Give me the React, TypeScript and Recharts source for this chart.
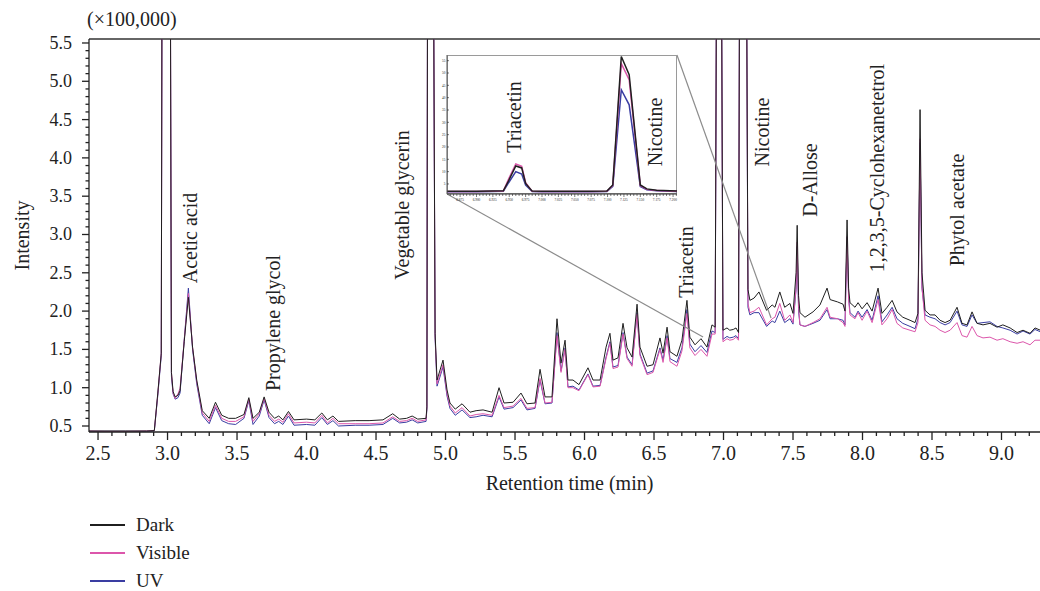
import React from 'react';
import { LineChart, Line, XAxis, YAxis, ReferenceLine, ReferenceDot } from 'recharts';

// Total ion chromatogram: retention time (min) and intensity (×100,000)
const retentionTime = [
  2.435, 2.55, 2.70, 2.85, 2.905, 2.93, 2.955, 2.962, 3.018, 3.028,
  3.04, 3.055, 3.075, 3.09, 3.12, 3.15, 3.18, 3.21, 3.25, 3.30,
  3.345, 3.39, 3.44, 3.49, 3.55, 3.585, 3.615, 3.66, 3.695, 3.73,
  3.77, 3.80, 3.83, 3.87, 3.91, 4.0, 4.06, 4.11, 4.15, 4.19,
  4.23, 4.35, 4.45, 4.55, 4.62, 4.67, 4.72, 4.76, 4.80, 4.86,
  4.866, 4.872, 4.91, 4.925, 4.939, 4.982, 5.011, 5.032, 5.07, 5.119,
  5.176, 5.22, 5.27, 5.335, 5.385, 5.421, 5.486, 5.543, 5.586, 5.644,
  5.68, 5.716, 5.766, 5.802, 5.831, 5.86, 5.881, 5.917, 5.96, 6.025,
  6.061, 6.112, 6.155, 6.183, 6.205, 6.241, 6.277, 6.306, 6.342, 6.378,
  6.399, 6.45, 6.493, 6.543, 6.565, 6.594, 6.615, 6.665, 6.701, 6.737,
  6.758, 6.795, 6.838, 6.881, 6.917, 6.94, 6.953, 6.982, 6.996, 7.025,
  7.045, 7.07, 7.09, 7.108, 7.118, 7.162, 7.176, 7.19, 7.22, 7.255,
  7.31, 7.35, 7.37, 7.405, 7.44, 7.478, 7.50, 7.522, 7.53, 7.54,
  7.55, 7.586, 7.644, 7.694, 7.745, 7.767, 7.82, 7.86, 7.874, 7.889,
  7.90, 7.91, 7.946, 7.968, 7.997, 8.033, 8.069, 8.112, 8.14, 8.177,
  8.213, 8.248, 8.29, 8.342, 8.378, 8.399, 8.414, 8.428, 8.45, 8.486,
  8.522, 8.558, 8.594, 8.63, 8.68, 8.716, 8.752, 8.788, 8.824, 8.867,
  8.917, 8.968, 9.01, 9.062, 9.112, 9.155, 9.205, 9.241, 9.28,
];

const darkIntensity = [
  0.435, 0.435, 0.435, 0.435, 0.44, 0.93, 1.45, 8, 8, 1.2,
  0.95, 0.88, 0.9, 0.96, 1.6, 2.18, 1.53, 1.1, 0.7, 0.6,
  0.81, 0.64, 0.6, 0.6, 0.65, 0.87, 0.6, 0.68, 0.88, 0.68,
  0.6, 0.63, 0.58, 0.69, 0.58, 0.59, 0.58, 0.67, 0.58, 0.63,
  0.56, 0.57, 0.57, 0.58, 0.66, 0.59, 0.6, 0.63, 0.59, 0.6,
  0.75, 8, 8, 1.71, 1.10, 1.36, 0.97, 0.80, 0.72, 0.79,
  0.68, 0.70, 0.71, 0.68, 1.0, 0.8, 0.81, 0.93, 0.79, 0.8,
  1.24, 0.88, 0.88, 1.9, 1.32, 1.62, 1.1, 1.1, 1.04, 1.26,
  1.1, 1.1, 1.53, 1.71, 1.36, 1.39, 1.84, 1.52, 1.40, 2.09,
  1.53, 1.28, 1.30, 1.65, 1.45, 1.79, 1.47, 1.41, 1.62, 2.14,
  1.66, 1.56, 1.64, 1.53, 1.82, 1.79, 8, 8, 1.75, 1.78,
  1.75, 1.76, 1.78, 1.72, 8, 8, 2.28, 2.14, 2.17, 2.25,
  2.01, 2.08, 2.05, 2.25, 2.05, 2.1, 1.97, 2.5, 3.12, 2.2,
  1.98, 1.92, 1.99, 2.08, 2.3, 2.15, 2.12, 2.09, 2.0, 3.19,
  2.3, 2.11, 2.05, 2.11, 2.03, 2.11, 2.0, 2.3, 1.97, 2.05,
  2.14, 1.99, 1.92, 1.88, 1.85, 1.97, 4.63, 2.5, 2.01, 1.95,
  1.95, 1.88, 1.85, 1.88, 2.05, 1.84, 1.82, 1.99, 1.84, 1.82,
  1.84, 1.79, 1.82, 1.78, 1.72, 1.75, 1.71, 1.78, 1.75,
];

const visibleIntensity = [
  0.435, 0.43, 0.43, 0.435, 0.44, 0.92, 1.45, 8, 8, 1.2,
  0.93, 0.86, 0.92, 0.99, 1.62, 2.23, 1.53, 1.08, 0.67, 0.56,
  0.77, 0.6, 0.56, 0.56, 0.62, 0.85, 0.56, 0.66, 0.86, 0.64,
  0.56, 0.59, 0.55, 0.66, 0.54, 0.55, 0.54, 0.64, 0.54, 0.6,
  0.53, 0.53, 0.53, 0.54, 0.62, 0.56, 0.57, 0.6, 0.56, 0.58,
  0.74, 8, 8, 1.68, 1.05, 1.3, 0.92, 0.76, 0.67, 0.74,
  0.63, 0.65, 0.66, 0.64, 0.9, 0.74, 0.76, 0.86, 0.73, 0.74,
  1.12, 0.8, 0.81, 1.68, 1.2, 1.5, 1.0, 1.0, 0.96, 1.17,
  1.01, 1.02, 1.38, 1.58, 1.25, 1.27, 1.7, 1.38, 1.28, 1.96,
  1.42, 1.17, 1.2, 1.5, 1.33, 1.65, 1.34, 1.28, 1.48, 1.97,
  1.52, 1.42, 1.5, 1.41, 1.7, 1.7, 8, 8, 1.6, 1.64,
  1.62, 1.63, 1.66, 1.62, 8, 8, 2.1, 1.98, 2.0, 2.05,
  1.82, 1.9, 1.92, 2.1, 1.88, 1.95, 1.85, 2.3, 2.9, 2.05,
  1.82, 1.8, 1.85, 1.9, 2.05, 1.92, 1.9, 1.85, 1.8, 2.97,
  2.15, 1.95, 1.9, 1.98, 1.88, 2.0, 1.85, 2.15, 1.82, 1.9,
  2.02, 1.84, 1.78, 1.75, 1.73, 1.85, 4.25, 2.3, 1.88, 1.82,
  1.8, 1.75, 1.72, 1.75, 1.85, 1.68, 1.66, 1.8, 1.68, 1.65,
  1.66, 1.62, 1.64, 1.6, 1.58, 1.6, 1.56, 1.62, 1.62,
];

const uvIntensity = [
  0.43, 0.43, 0.43, 0.43, 0.435, 0.9, 1.42, 8, 8, 1.15,
  0.92, 0.85, 0.87, 0.93, 1.62, 2.3, 1.5, 1.05, 0.64, 0.53,
  0.74, 0.57, 0.53, 0.52, 0.6, 0.83, 0.52, 0.63, 0.84, 0.61,
  0.53, 0.56, 0.52, 0.63, 0.51, 0.52, 0.51, 0.61, 0.52, 0.57,
  0.5, 0.51, 0.51, 0.52, 0.6, 0.54, 0.55, 0.58, 0.54, 0.56,
  0.72, 8, 8, 1.65, 1.02, 1.27, 0.89, 0.73, 0.64, 0.71,
  0.61, 0.62, 0.64, 0.62, 0.88, 0.72, 0.74, 0.84, 0.71, 0.73,
  1.1, 0.79, 0.8, 1.72, 1.22, 1.52, 1.01, 1.02, 0.97, 1.18,
  1.02, 1.03, 1.4, 1.6, 1.27, 1.29, 1.72, 1.4, 1.3, 1.98,
  1.44, 1.19, 1.22, 1.52, 1.36, 1.68, 1.38, 1.33, 1.52, 2.02,
  1.57, 1.47, 1.55, 1.46, 1.74, 1.72, 8, 8, 1.63, 1.67,
  1.65, 1.66, 1.68, 1.64, 8, 8, 2.05, 1.95, 1.98, 1.98,
  1.8, 1.87, 1.85, 2.0, 1.85, 1.9, 1.83, 2.28, 2.84, 2.0,
  1.82, 1.8, 1.84, 1.88, 2.02, 1.9, 1.9, 1.88, 1.82, 2.97,
  2.2, 1.98, 1.92, 2.0, 1.92, 2.02, 1.88, 2.2, 1.86, 1.95,
  2.05, 1.9, 1.84, 1.8, 1.77, 1.9, 4.2, 2.3, 1.95, 1.92,
  1.9, 1.85, 1.82, 1.85, 2.0, 1.82, 1.8, 1.95, 1.84, 1.85,
  1.86, 1.8, 1.78, 1.75, 1.7, 1.74, 1.7, 1.76, 1.73,
];

// Expanded window 6.855–7.206 min (triacetin and nicotine peaks)
const insetTime = [
  6.855, 6.875, 6.9, 6.925, 6.941, 6.949, 6.96, 6.969, 6.975, 6.985, 7.0,
  7.025, 7.05, 7.075, 7.099, 7.108, 7.121, 7.133, 7.15, 7.16, 7.175, 7.206,
];
const insetDark = [
  2.0, 2.0, 2.0, 2.1, 2.2, 6.3, 12.3, 11.5, 5.2, 2.1, 2.0,
  2.0, 2.0, 2.0, 2.1, 4.6, 56.7, 49.3, 4.6, 3.0, 2.5, 2.1,
];
const insetVisible = [
  1.9, 1.9, 1.9, 2.0, 2.1, 7.0, 13.1, 12.2, 5.5, 2.0, 1.9,
  1.9, 1.9, 1.9, 2.0, 4.4, 53.8, 47.3, 4.4, 2.8, 2.3, 2.0,
];
const insetUv = [
  1.8, 1.8, 1.8, 1.9, 2.0, 5.5, 10.0, 9.0, 4.5, 1.9, 1.8,
  1.8, 1.8, 1.8, 1.9, 4.0, 43.2, 37.1, 4.0, 2.6, 2.2, 1.9,
];

const seriesKeys = ['uv', 'visible', 'dark'];
const seriesNames: Record<string, string> = { dark: 'Dark', visible: 'Visible', uv: 'UV' };
const seriesColors: Record<string, string> = { dark: '#1f1f1f', visible: '#dc56ab', uv: '#3a3da2' };
const legendKeys = ['dark', 'visible', 'uv'];

// Compound annotations (rotated text, centred at t / v)
const peakLabels = [
  { name: 'Acetic acid', t: 3.162, v: 2.954 },
  { name: 'Propylene glycol', t: 3.759, v: 1.845 },
  { name: 'Vegetable glycerin', t: 4.687, v: 3.385 },
  { name: 'Triacetin', t: 6.73, v: 2.641 },
  { name: 'Nicotine', t: 7.277, v: 4.338 },
  { name: 'D-Allose', t: 7.622, v: 3.711 },
  { name: '1,2,3,5-Cyclohexanetetrol', t: 8.104, v: 3.868 },
  { name: 'Phytol acetate', t: 8.68, v: 3.32 },
];
const insetLabels = [
  { name: 'Triacetin', t: 6.957, v: 32.2 },
  { name: 'Nicotine', t: 7.173, v: 26.1 },
];

// Lines tying the expanded window back to the main trace
const zoomConnectors = [
  [{ x: 5.011, y: 3.529 }, { x: 6.853, y: 1.662 }],
  [{ x: 6.665, y: 5.343 }, { x: 7.342, y: 1.91 }],
];

const xDomain = [2.435, 9.277];
const yDomain = [0.4217, 5.552];
const insetXDomain = [6.855, 7.206];
const insetYDomain = [0.93, 57.3];

const xTicks: number[] = [];
for (let k = 25; k <= 92; k++) xTicks.push(k / 10);
const yTicks: number[] = [];
for (let k = 5; k <= 55; k++) yTicks.push(k / 10);
const insetXTicks: number[] = [];
for (let k = 1372; k <= 1441; k++) insetXTicks.push((k * 5) / 1000);
const insetYTicks = [5, 10, 15, 20, 25, 30, 35, 40, 45, 50, 55];

const mainRows = retentionTime.map((t, i) => ({
  t,
  dark: darkIntensity[i],
  visible: visibleIntensity[i],
  uv: uvIntensity[i],
}));
const insetRows = insetTime.map((t, i) => ({
  t,
  dark: insetDark[i],
  visible: insetVisible[i],
  uv: insetUv[i],
}));

const INK = '#222';
const FONT = '"Liberation Serif", "Times New Roman", serif';

const isMajor = (v: number) => Math.round(v * 10) % 5 === 0;

const MainXTick = (props: any) => {
  const { x, y, payload } = props;
  const v = payload.value;
  const major = isMajor(v);
  return (
    <g>
      <line x1={x} y1={y} x2={x} y2={y + (major ? 8 : 4)} stroke={INK} strokeWidth={1.3} />
      {major && (
        <text x={x} y={y + 28} textAnchor="middle" fontSize={20} fill={INK}>
          {v.toFixed(1)}
        </text>
      )}
    </g>
  );
};

const MainYTick = (props: any) => {
  const { x, y, payload } = props;
  const v = payload.value;
  const major = isMajor(v);
  return (
    <g>
      <line x1={x} y1={y} x2={x - (major ? 7 : 3.5)} y2={y} stroke={INK} strokeWidth={1.3} />
      {major && (
        <text x={x - 17} y={y + 6} textAnchor="end" fontSize={18} fill={INK}>
          {v.toFixed(1)}
        </text>
      )}
    </g>
  );
};

const InsetXTick = (props: any) => {
  const { x, y, payload } = props;
  const v = payload.value;
  const major = Math.round(v * 1000) % 25 === 0;
  return (
    <g>
      <line x1={x} y1={y} x2={x} y2={y + (major ? 3 : 2)} stroke={INK} strokeWidth={0.6} />
      {major && (
        <text x={x} y={y + 6.5} textAnchor="middle" fontSize={3.4} fill={INK}>
          {v.toFixed(3)}
        </text>
      )}
    </g>
  );
};

const InsetYTick = (props: any) => {
  const { x, y, payload } = props;
  return (
    <g>
      <line x1={x} y1={y} x2={x + 2} y2={y} stroke={INK} strokeWidth={0.6} />
      <text x={x - 1.5} y={y + 1.2} textAnchor="end" fontSize={3.4} fill={INK}>
        {payload.value}
      </text>
    </g>
  );
};

const rotatedText = (text: string, size: number) => (p: any) => (
  <text
    x={p.cx}
    y={p.cy}
    transform={`rotate(-90 ${p.cx} ${p.cy})`}
    textAnchor="middle"
    dominantBaseline="central"
    fontSize={size}
    fill={INK}
  >
    {text}
  </text>
);

const YTitle = (props: any) => {
  const vb = props.viewBox || { x: 0, y: 39, width: 89, height: 393 };
  const cy = vb.y + vb.height / 2;
  return (
    <g>
      <text
        x={vb.x + 22}
        y={cy}
        transform={`rotate(-90 ${vb.x + 22} ${cy})`}
        textAnchor="middle"
        dominantBaseline="central"
        fontSize={20}
        fill={INK}
      >
        Intensity
      </text>
      <text x={vb.x + 87} y={vb.y - 13} fontSize={20} fill={INK}>
        (×100,000)
      </text>
    </g>
  );
};

const XTitle = (props: any) => {
  const vb = props.viewBox || { x: 89, y: 432, width: 951, height: 60 };
  return (
    <text x={vb.x + vb.width / 2 + 5} y={vb.y + 58} textAnchor="middle" fontSize={20} fill={INK}>
      Retention time (min)
    </text>
  );
};

export default function App() {
  return (
    <div
      style={{
        position: 'absolute',
        left: 0,
        top: 0,
        width: 1040,
        height: 591,
        background: '#fff',
        fontFamily: FONT,
        overflow: 'hidden',
      }}
    >
      <LineChart
        width={1040}
        height={591}
        data={mainRows}
        margin={{ top: 39, right: 0, bottom: 99, left: 0 }}
      >
        <XAxis
          dataKey="t"
          type="number"
          domain={xDomain}
          allowDataOverflow
          ticks={xTicks}
          interval={0}
          tick={<MainXTick />}
          tickLine={false}
          tickSize={0}
          tickMargin={0}
          axisLine={{ stroke: INK, strokeWidth: 1.3 }}
          height={60}
          label={XTitle}
        />
        <YAxis
          type="number"
          domain={yDomain}
          allowDataOverflow
          ticks={yTicks}
          interval={0}
          tick={<MainYTick />}
          tickLine={false}
          tickSize={0}
          tickMargin={0}
          axisLine={{ stroke: INK, strokeWidth: 1.3 }}
          width={89}
          label={YTitle}
        />
        <ReferenceLine y={yDomain[1]} stroke="#333" strokeWidth={1.3} ifOverflow="visible" />
        {seriesKeys.map((k) => (
          <Line
            key={k}
            dataKey={k}
            name={seriesNames[k]}
            type="linear"
            stroke={seriesColors[k]}
            strokeWidth={1}
            dot={false}
            activeDot={false}
            isAnimationActive={false}
          />
        ))}
        {zoomConnectors.map((seg, i) => (
          <ReferenceLine key={i} segment={seg} stroke="#8c8c8c" strokeWidth={1.2} ifOverflow="visible" />
        ))}
        {peakLabels.map((l) => (
          <ReferenceDot key={l.name} x={l.t} y={l.v} r={0} shape={rotatedText(l.name, 20)} />
        ))}
      </LineChart>

      <div
        style={{
          position: 'absolute',
          left: 447,
          top: 55,
          width: 230,
          height: 139,
          boxSizing: 'border-box',
          border: '1px solid #9a9a9a',
          background: '#fff',
        }}
      />
      <div style={{ position: 'absolute', left: 439, top: 55 }}>
        <LineChart
          width={240}
          height={150}
          data={insetRows}
          margin={{ top: 0, right: 2, bottom: 0, left: 0 }}
        >
          <XAxis
            dataKey="t"
            type="number"
            domain={insetXDomain}
            allowDataOverflow
            ticks={insetXTicks}
            interval={0}
            tick={<InsetXTick />}
            tickLine={false}
            tickSize={0}
            tickMargin={0}
            axisLine={{ stroke: '#333', strokeWidth: 1 }}
            height={11}
          />
          <YAxis
            type="number"
            domain={insetYDomain}
            allowDataOverflow
            ticks={insetYTicks}
            interval={0}
            tick={<InsetYTick />}
            tickLine={false}
            tickSize={0}
            tickMargin={0}
            axisLine={{ stroke: '#555', strokeWidth: 1 }}
            width={8}
          />
          {seriesKeys.map((k) => (
            <Line
              key={k}
              dataKey={k}
              name={seriesNames[k]}
              type="linear"
              stroke={seriesColors[k]}
              strokeWidth={1.5}
              dot={false}
              activeDot={false}
              isAnimationActive={false}
            />
          ))}
          {insetLabels.map((l) => (
            <ReferenceDot key={l.name} x={l.t} y={l.v} r={0} shape={rotatedText(l.name, 20)} />
          ))}
        </LineChart>
      </div>

      <svg
        width={200}
        height={91}
        style={{ position: 'absolute', left: 80, top: 500 }}
      >
        {legendKeys.map((k, i) => (
          <g key={k} transform={`translate(0 ${25 + i * 28})`}>
            <line x1={10} y1={0} x2={45} y2={0} stroke={seriesColors[k]} strokeWidth={2} />
            <text x={56} y={6} fontSize={19} fill={INK}>
              {seriesNames[k]}
            </text>
          </g>
        ))}
      </svg>
    </div>
  );
}
